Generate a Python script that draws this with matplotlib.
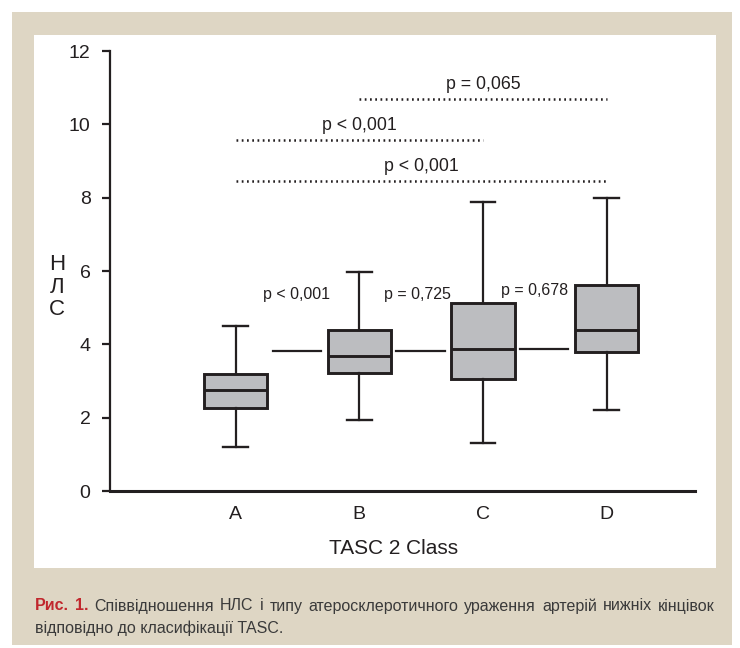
import matplotlib
matplotlib.use("Agg")
import matplotlib.pyplot as plt
from matplotlib.patches import Rectangle

# ---- data ----
categories = ["A", "B", "C", "D"]
q1 = [2.26, 3.21, 3.06, 3.78]
median = [2.75, 3.68, 3.87, 4.40]
q3 = [3.19, 4.40, 5.12, 5.61]
whislo = [1.20, 1.94, 1.31, 2.21]
whishi = [4.49, 5.96, 7.89, 7.99]

adjacent_p = ["p < 0,001", "p = 0,725", "p = 0,678"]
adjacent_y = [3.83, 3.83, 3.86]

bracket_pairs = [(2, 4), (1, 3), (1, 4)]
bracket_y = [10.69, 9.57, 8.45]
bracket_p = ["p = 0,065", "p < 0,001", "p < 0,001"]

yticks = [0, 2, 4, 6, 8, 10, 12]

W, H = 740, 648
fig = plt.figure(figsize=(W / 100, H / 100), dpi=100)
fig.patch.set_facecolor("white")

def fx(px):
    return px / W

def fy(py):
    return 1 - py / H

beige = "#ded6c4"
fig.patches.append(Rectangle((fx(12), fy(645)), fx(732 - 12), (645 - 12) / H,
                             transform=fig.transFigure, facecolor=beige, edgecolor="none", zorder=-3))
fig.patches.append(Rectangle((fx(34), fy(568)), fx(716 - 34), (568 - 35) / H,
                             transform=fig.transFigure, facecolor="white", edgecolor="none", zorder=-2))

ax_left, ax_right, ax_top, ax_bot = 110, 695, 51, 491
ax = fig.add_axes([fx(ax_left), fy(ax_bot), fx(ax_right - ax_left), (ax_bot - ax_top) / H])
ax.set_zorder(1)
ax.patch.set_alpha(0)

pos = [1, 2, 3, 4]
step = 123.7
xl = 1 - (235.7 - ax_left) / step
xr = 4 + (ax_right - 606.7) / step
ax.set_xlim(xl, xr)
ax.set_ylim(0, 12)

dark = "#231f20"
stats = []
for i in range(4):
    stats.append(dict(med=median[i], q1=q1[i], q3=q3[i], whislo=whislo[i], whishi=whishi[i], fliers=[]))
ax.bxp(stats, positions=pos, widths=0.51, patch_artist=True, showfliers=False,
       boxprops=dict(facecolor="#bcbdc0", edgecolor=dark, linewidth=2.1),
       medianprops=dict(color=dark, linewidth=2.1),
       whiskerprops=dict(color=dark, linewidth=1.6),
       capprops=dict(color=dark, linewidth=1.7),
       capwidths=0.2)

font = "Liberation Sans"
txtc = "#231f20"

# adjacent comparison lines
for i in range(3):
    ax.plot([pos[i] + 0.30, pos[i + 1] - 0.31], [adjacent_y[i]] * 2, color=dark, lw=1.6)
p_xy = [(1.49, 5.35), (2.47, 5.35), (3.42, 5.48)]
for (x, y), t in zip(p_xy, adjacent_p):
    ax.text(x, y, t, ha="center", va="center", fontsize=11.5, family=font, color=txtc)

# brackets (dotted)
for (a, b), y, t in zip(bracket_pairs, bracket_y, bracket_p):
    ax.plot([a, b], [y, y], color=dark, lw=1.8, linestyle=(0, (0.7, 1.4)))
    ax.text((a + b) / 2, y + 0.41, t, ha="center", va="center", fontsize=12.8, family=font, color=txtc)

# axes styling
for s in ["top", "right"]:
    ax.spines[s].set_visible(False)
ax.spines["left"].set_color(dark)
ax.spines["bottom"].set_color(dark)
ax.spines["left"].set_linewidth(1.6)
ax.spines["bottom"].set_linewidth(2.2)
ax.set_yticks(yticks)
ax.set_yticklabels([str(v) for v in yticks], family=font, fontsize=14, color=txtc)
ax.tick_params(axis="y", direction="out", length=6, width=1.6, color=dark, pad=8)
ax.set_xticks(pos)
ax.set_xticklabels(categories, family=font, fontsize=14, color=txtc)
ax.tick_params(axis="x", length=0, pad=10.5)

fig.text(fx(394), fy(548), "TASC 2 Class", ha="center", va="center", fontsize=15, family=font, color=txtc)
fig.text(fx(57), fy(287), "Н\nЛ\nС", ha="center", va="center", fontsize=16, family=font, color=txtc,
         linespacing=1.1)

# caption, justified first line
cap_font = "Liberation Sans"
cap_size = 11.5
red = "#c1272d"
gray = "#3a3a3a"
words1 = [("Рис.", red, "bold"), ("1.", red, "bold")] + [
    (w, gray, "normal") for w in "Співвідношення НЛС і типу атеросклеротичного ураження артерій нижніх кінцівок".split()]
fig.canvas.draw()
renderer = fig.canvas.get_renderer()
x0, x1 = 35, 715
texts = []
widths = []
for w, c, fw in words1:
    t = fig.text(0, fy(606), w, ha="left", va="center", fontsize=cap_size, family=cap_font,
                 color=c, fontweight=fw)
    bb = t.get_window_extent(renderer)
    texts.append(t)
    widths.append(bb.width)
total = sum(widths)
gap = (x1 - x0 - total) / (len(words1) - 1)
x = x0
for t, wd in zip(texts, widths):
    t.set_x(fx(x))
    x += wd + gap
fig.text(fx(35), fy(628), "відповідно до класифікації TASC.", ha="left", va="center",
         fontsize=cap_size, family=cap_font, color=gray)

fig.savefig("out.png", dpi=100, facecolor=fig.get_facecolor())
